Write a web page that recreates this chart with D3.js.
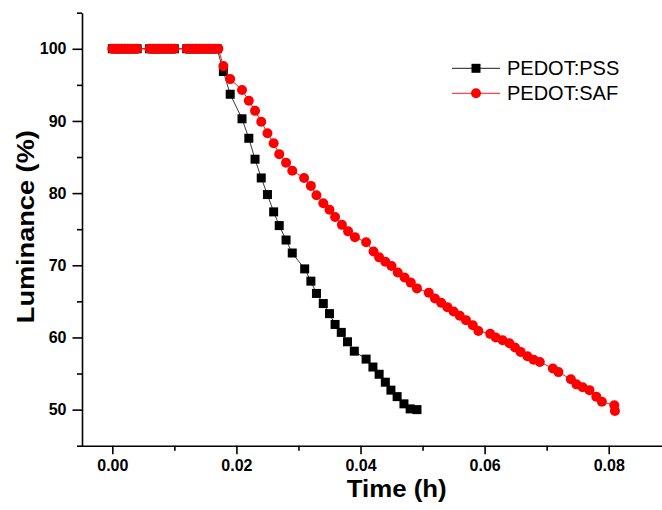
<!DOCTYPE html>
<html>
<head>
<meta charset="utf-8">
<script src="https://cdn.jsdelivr.net/npm/d3@7"></script>
<style>
  html, body { margin: 0; padding: 0; background: #fff; }
  svg { display: block; }
</style>
</head>
<body>
<svg id="chart" width="662" height="510"></svg>
<script>
// ---- data ----
const seriesNames = ["PEDOT:PSS", "PEDOT:SAF"];

const pssTime = [
  0, 0.0005, 0.001, 0.0015, 0.002, 0.0025, 0.003, 0.0035, 0.004,
  0.006, 0.0065, 0.007, 0.0075, 0.008, 0.0085, 0.009, 0.0095, 0.010,
  0.012, 0.0125, 0.013, 0.0135, 0.014, 0.0145, 0.015, 0.0155, 0.016, 0.0165, 0.0169,
  0.0179, 0.0190, 0.0209, 0.0220, 0.0230, 0.0240, 0.0250, 0.0260, 0.0269, 0.0280,
  0.0290, 0.0310, 0.0320, 0.0329, 0.0340, 0.0350, 0.0359, 0.0369, 0.0379, 0.0390,
  0.0409, 0.0420, 0.0430, 0.0440, 0.0449, 0.0459, 0.0470, 0.0480, 0.0491
];
const pssLum = [
  100, 100, 100, 100, 100, 100, 100, 100, 100,
  100, 100, 100, 100, 100, 100, 100, 100, 100,
  100, 100, 100, 100, 100, 100, 100, 100, 100, 100, 100,
  96.85, 93.7, 90.3, 87.6, 84.7, 82.1, 79.8, 77.4, 75.5, 73.5,
  71.7, 69.5, 67.8, 66.1, 64.7, 63.3, 61.8, 60.7, 59.4, 58.1,
  57.0, 55.9, 54.9, 53.8, 52.7, 51.8, 50.8, 50.1, 50.0
];

const safTime = [
  0, 0.0005, 0.001, 0.0015, 0.002, 0.0025, 0.003, 0.0035, 0.004,
  0.006, 0.0065, 0.007, 0.0075, 0.008, 0.0085, 0.009, 0.0095, 0.010,
  0.012, 0.0125, 0.013, 0.0135, 0.014, 0.0145, 0.015, 0.0155, 0.016, 0.0165, 0.0171,
  0.0179, 0.0190, 0.0209, 0.0220, 0.0230, 0.0240, 0.0250, 0.0260, 0.0269, 0.0280,
  0.0290, 0.0309, 0.0320, 0.0329, 0.0340, 0.0350, 0.0359, 0.0370, 0.0380, 0.0391,
  0.0409, 0.0421, 0.0430, 0.0440, 0.0450, 0.0460, 0.0471, 0.0481, 0.0491,
  0.0510, 0.0520, 0.0530, 0.0540, 0.0550, 0.0560, 0.0570, 0.0581, 0.0590,
  0.0609, 0.0618, 0.0629, 0.0640, 0.0649, 0.0658, 0.0669, 0.0679, 0.0689,
  0.0710, 0.0719, 0.0739, 0.0748, 0.0758, 0.0769, 0.0780, 0.0789, 0.0809, 0.0810
];
const safLum = [
  100, 100, 100, 100, 100, 100, 100, 100, 100,
  100, 100, 100, 100, 100, 100, 100, 100, 100,
  100, 100, 100, 100, 100, 100, 100, 100, 100, 100, 100,
  97.6, 95.8, 94.3, 92.8, 91.4, 89.9, 88.3, 86.9, 85.4, 84.2,
  83.1, 82.1, 81.0, 79.7, 78.6, 77.7, 76.7, 75.6, 74.7, 73.9,
  73.2, 71.9, 71.1, 70.5, 69.9, 69.0, 68.3, 67.6, 66.8,
  66.2, 65.4, 64.8, 64.2, 63.6, 63.0, 62.4, 61.7, 60.9,
  60.5, 60.0, 59.6, 59.2, 58.6, 58.0, 57.4, 56.9, 56.6,
  55.7, 55.2, 54.2, 53.5, 53.1, 52.7, 51.8, 51.1, 50.6, 49.8
];

const xMajorTicks = [0, 0.02, 0.04, 0.06, 0.08];
const xMinorTicks = [0.01, 0.03, 0.05, 0.07];
const yMajorTicks = [50, 60, 70, 80, 90, 100];
const yMinorTicks = [45, 55, 65, 75, 85, 95, 105];

const xTitle = "Time (h)";
const yTitle = "Luminance (%)";

// ---- drawing ----
const svg = d3.select("#chart");
const x = d3.scaleLinear().domain([-0.005, 0.09]).range([81.3, 670.75]);
const y = d3.scaleLinear().domain([45, 105]).range([445.7, 12.7]);

const FONT = "'Liberation Sans', Arial, sans-serif";
const axisW = 1.6;

// X axis
const gx = svg.append("g").attr("transform", `translate(0,${y(45)})`);
gx.call(d3.axisBottom(x).tickValues(xMajorTicks).tickSize(8.5).tickSizeOuter(0)
  .tickFormat(d3.format(".2f")));
gx.append("g").call(d3.axisBottom(x).tickValues(xMinorTicks).tickSize(5).tickSizeOuter(0).tickFormat(""))
  .select(".domain").remove();
gx.selectAll(".domain").attr("stroke", "#000").attr("stroke-width", axisW);
gx.selectAll(".tick line").attr("stroke", "#000").attr("stroke-width", axisW);
gx.selectAll(".tick text")
  .attr("font-family", FONT).attr("font-weight", "bold").attr("font-size", 16)
  .attr("fill", "#000").attr("y", 14).attr("dy", "0.71em");

// Y axis
const gy = svg.append("g").attr("transform", `translate(${x(-0.005) + 0.7},0)`);
gy.call(d3.axisLeft(y).tickValues(yMajorTicks).tickSize(9.5).tickSizeOuter(0)
  .tickFormat(d3.format("d")));
gy.append("g").call(d3.axisLeft(y).tickValues(yMinorTicks).tickSize(5).tickSizeOuter(0).tickFormat(""))
  .select(".domain").remove();
gy.selectAll(".domain").attr("stroke", "#000").attr("stroke-width", axisW);
gy.selectAll(".tick line").attr("stroke", "#000").attr("stroke-width", axisW);
gy.selectAll(".tick text")
  .attr("font-family", FONT).attr("font-weight", "bold").attr("font-size", 16)
  .attr("fill", "#000").attr("x", -15.5);

// Axis titles
svg.append("text")
  .attr("x", 396.7).attr("y", 497)
  .attr("text-anchor", "middle")
  .attr("font-family", FONT).attr("font-weight", "bold").attr("font-size", 23)
  .attr("textLength", 100).attr("lengthAdjust", "spacingAndGlyphs")
  .text(xTitle);
svg.append("text")
  .attr("transform", "translate(33.5,226.7) rotate(-90)")
  .attr("text-anchor", "middle")
  .attr("font-family", FONT).attr("font-weight", "bold").attr("font-size", 23)
  .attr("textLength", 193).attr("lengthAdjust", "spacingAndGlyphs")
  .text(yTitle);

// Series
const pss = pssTime.map((t, i) => ({ t, v: pssLum[i] }));
const saf = safTime.map((t, i) => ({ t, v: safLum[i] }));
const line = d3.line().x(d => x(d.t)).y(d => y(d.v));

svg.append("path").datum(pss).attr("d", line)
  .attr("fill", "none").attr("stroke", "#222").attr("stroke-width", 0.9);
svg.append("g").selectAll("rect").data(pss).join("rect")
  .attr("x", d => x(d.t) - 4.5).attr("y", d => y(d.v) - 4.5)
  .attr("width", 9).attr("height", 9).attr("fill", "#000");

svg.append("path").datum(saf).attr("d", line)
  .attr("fill", "none").attr("stroke", "#ff0000").attr("stroke-width", 0.9);
svg.append("g").selectAll("circle").data(saf).join("circle")
  .attr("cx", d => x(d.t)).attr("cy", d => y(d.v)).attr("r", 5)
  .attr("fill", "#ff0000");

// Legend
const legend = svg.append("g");
const legY = [68.3, 93.3];
legend.append("line").attr("x1", 452).attr("x2", 500).attr("y1", legY[0]).attr("y2", legY[0])
  .attr("stroke", "#000").attr("stroke-width", 0.9);
legend.append("rect").attr("x", 476 - 4.5).attr("y", legY[0] - 4.5).attr("width", 9).attr("height", 9).attr("fill", "#000");
legend.append("line").attr("x1", 452).attr("x2", 500).attr("y1", legY[1]).attr("y2", legY[1])
  .attr("stroke", "#ff0000").attr("stroke-width", 0.9);
legend.append("circle").attr("cx", 476).attr("cy", legY[1]).attr("r", 5).attr("fill", "#ff0000");
seriesNames.forEach((name, i) => {
  legend.append("text")
    .attr("x", 507).attr("y", legY[i] + 7)
    .attr("font-family", FONT).attr("font-size", 20).attr("fill", "#000")
    .text(name);
});
</script>
</body>
</html>
